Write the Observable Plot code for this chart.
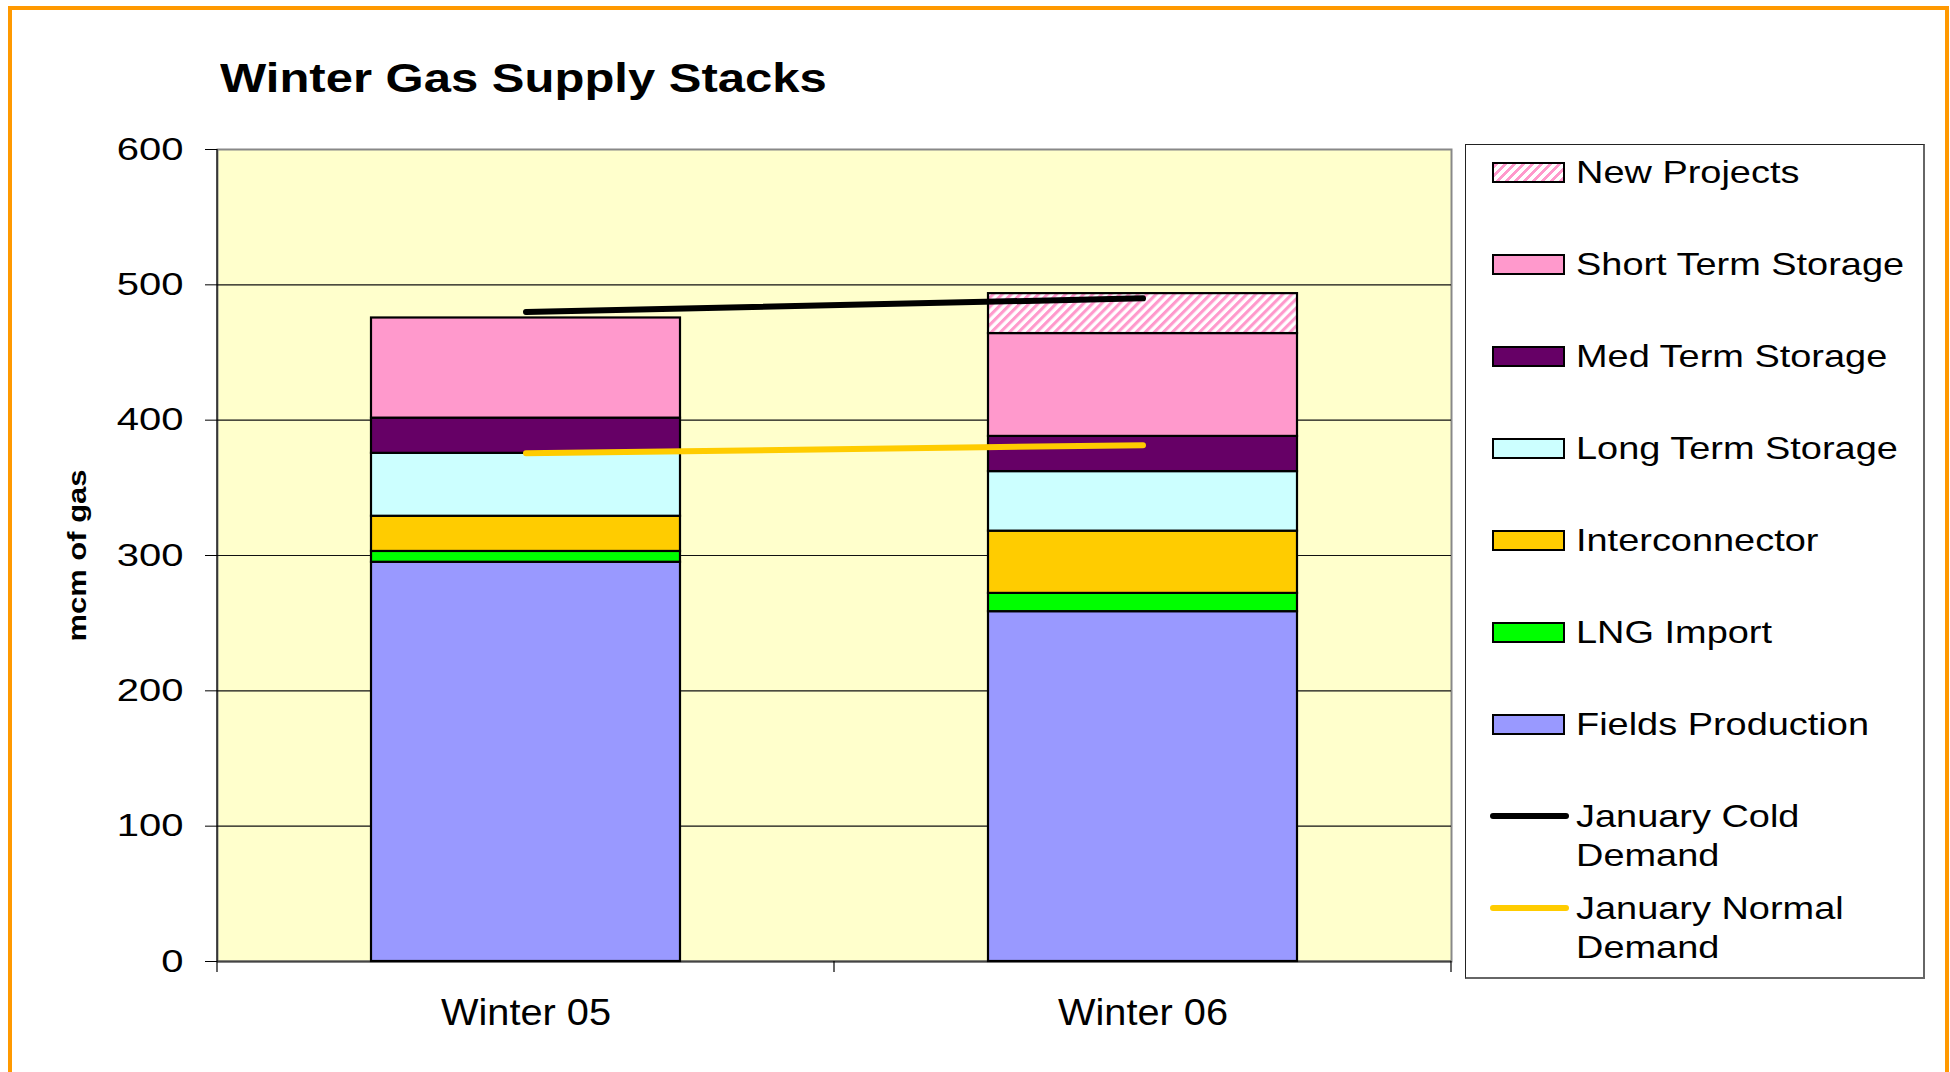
<!DOCTYPE html>
<html>
<head>
<meta charset="utf-8">
<script src="https://cdn.jsdelivr.net/npm/d3@7"></script>
<script src="https://cdn.jsdelivr.net/npm/@observablehq/plot@0.6"></script>
<style>
  html, body { margin: 0; padding: 0; background: #fff; overflow: hidden; }
  #wrap { position: relative; width: 1950px; height: 1072px; font-family: 'Liberation Sans', Arial, sans-serif; color: #000; }
  #chart { position: absolute; left: 0; top: 0; }
  #frame { position: absolute; left: 8px; top: 6px; width: 1941px; height: 1200px; border: 4px solid #FF9900; box-sizing: border-box; pointer-events: none; }
  #title { position: absolute; left: 220px; top: 58px; font-size: 40px; line-height: 40px; font-weight: bold; white-space: nowrap; transform: scaleX(1.225); transform-origin: 0 50%; }
  #legend { position: absolute; left: 1465px; top: 144px; width: 460px; height: 835px; box-sizing: border-box; border: 1.5px solid #222; border-right: 2.5px solid #666; border-bottom: 2.5px solid #666; background: #fff; }
  .sw { position: absolute; left: 1492px; width: 73px; height: 21px; border: 2px solid #000; box-sizing: border-box; }
  .ln { position: absolute; left: 1490px; width: 79px; height: 6px; border-radius: 3px; }
  .lt { position: absolute; left: 1576px; font-size: 32px; line-height: 39.5px; white-space: nowrap; transform: scaleX(1.185); transform-origin: 0 0; }
</style>
</head>
<body>
<div id="wrap">
  <div id="chart"></div>
  <div id="title">Winter Gas Supply Stacks</div>
  <div id="legend"></div>
  <div id="frame"></div>
</div>
<script>
// ---- data ----
const seasons = ["Winter 05", "Winter 06"];
const series = ["Fields Production", "LNG Import", "Interconnector", "Long Term Storage", "Med Term Storage", "Short Term Storage", "New Projects"];
const seriesColors = ["#9999FF", "#00FF00", "#FFCC00", "#CCFFFF", "#660066", "#FF99CC", "url(#hatch)"];
const fieldsProduction = [295, 258.5];
const lngImport = [8, 13.5];
const interconnector = [26, 46];
const longTermStorage = [46.5, 44];
const medTermStorage = [26, 26];
const shortTermStorage = [74, 76];
const newProjects = [0, 29.5];
const coldDemand = [480, 490];
const normalDemand = [375.5, 381.5];
const yTicks = [0, 100, 200, 300, 400, 500, 600];
const yGrid = [100, 200, 300, 400, 500];
const yTitle = "mcm of gas";

const seriesValues = [fieldsProduction, lngImport, interconnector, longTermStorage, medTermStorage, shortTermStorage, newProjects];
const stackData = series.flatMap((s, i) => seasons.map((season, j) => ({season, series: s, value: seriesValues[i][j]})))
  .filter(d => d.value > 0);
const coldData = seasons.map((season, j) => ({season, value: coldDemand[j]}));
const normalData = seasons.map((season, j) => ({season, value: normalDemand[j]}));

const defsMark = () => {
  const defs = d3.create("svg:defs");
  const p = defs.append("pattern").attr("id", "hatch").attr("patternUnits", "userSpaceOnUse")
    .attr("width", 6.4).attr("height", 6.4).attr("patternTransform", "rotate(45)");
  p.append("rect").attr("width", 6.4).attr("height", 6.4).attr("fill", "#fff");
  p.append("rect").attr("width", 3.1).attr("height", 6.4).attr("fill", "#FF99CC");
  return defs.node();
};

const axisExtras = (index, scales, values, dims) => {
  const x = scales.x;
  const bw = typeof x.bandwidth === "function" ? x.bandwidth() : x.bandwidth;
  const left = dims.marginLeft, right = dims.width - dims.marginRight;
  const bottom = dims.height - dims.marginBottom, top = dims.marginTop;
  const a = x(seasons[0]) + bw, b = x(seasons[1]);
  const mid = (a + b) / 2;
  const g = d3.create("svg:g").attr("stroke", "#000").attr("stroke-width", 1.2);
  g.append("line").attr("x1", left).attr("x2", left).attr("y1", top).attr("y2", bottom + 11);
  for (const px of [mid, right]) {
    g.append("line").attr("x1", px).attr("x2", px).attr("y1", bottom).attr("y2", bottom + 11);
  }
  return g.node();
};

const chart = Plot.plot({
  width: 1950,
  height: 1072,
  marginLeft: 217,
  marginRight: 499,
  marginTop: 149,
  marginBottom: 111,
  style: {fontFamily: "'Liberation Sans', Arial, sans-serif", fontSize: "32px", color: "#000", background: "transparent", overflow: "visible"},
  x: {domain: seasons, paddingInner: 0.5, paddingOuter: 0.25},
  y: {domain: [0, 600]},
  color: {domain: series, range: seriesColors},
  marks: [
    defsMark,
    Plot.frame({fill: "#FFFFCC", stroke: "#888", strokeWidth: 2}),
    Plot.ruleY(yGrid, {stroke: "#111", strokeWidth: 1.1}),
    Plot.ruleY([0], {stroke: "#444", strokeWidth: 2}),
    Plot.barY(stackData, {x: "season", y: "value", fill: "series", stroke: "#000", strokeWidth: 2.2}),
    Plot.line(coldData, {x: "season", y: "value", stroke: "#000", strokeWidth: 6, strokeLinecap: "round"}),
    Plot.line(normalData, {x: "season", y: "value", stroke: "#FFCC00", strokeWidth: 6, strokeLinecap: "round"}),
    Plot.axisY({ticks: yTicks, tickSize: 12, tickPadding: 22, fontSize: 32, label: null, tickFormat: d => String(d)}),
    Plot.axisX({tickSize: 0, tickPadding: 37, fontSize: 37.5, label: null}),
    axisExtras,
    Plot.text([yTitle], {frameAnchor: "left", rotate: -90, dx: -132, lineAnchor: "bottom", textAnchor: "middle", fontSize: 26, fontWeight: "bold"})
  ]
});
document.getElementById("chart").appendChild(chart);

// horizontal stretching of text to match the reference glyph proportions
function stretch(selector, f, fixed) {
  chart.querySelectorAll(selector).forEach(t => {
    const L = t.getComputedTextLength();
    t.setAttribute("textLength", fixed != null ? fixed : L * f);
    t.setAttribute("lengthAdjust", "spacingAndGlyphs");
  });
}
stretch('g[aria-label="y-axis tick label"] text', 1.25);
stretch('g[aria-label="x-axis tick label"] text', 1.06);
stretch('g[aria-label="text"] text', 1, 172);

// legend
const wrap = document.getElementById("wrap");
const legendRows = [
  {label: "New Projects", kind: "hatch"},
  {label: "Short Term Storage", color: "#FF99CC"},
  {label: "Med Term Storage", color: "#660066"},
  {label: "Long Term Storage", color: "#CCFFFF"},
  {label: "Interconnector", color: "#FFCC00"},
  {label: "LNG Import", color: "#00FF00"},
  {label: "Fields Production", color: "#9999FF"},
  {label: "January Cold<br>Demand", line: "#000"},
  {label: "January Normal<br>Demand", line: "#FFCC00"}
];
legendRows.forEach((r, i) => {
  const c = 172 + 92 * i;
  const el = document.createElement("div");
  if (r.line) {
    el.className = "ln";
    el.style.top = (c - 3) + "px";
    el.style.background = r.line;
  } else {
    el.className = "sw";
    el.style.top = (c - 10.5) + "px";
    el.style.background = r.kind === "hatch"
      ? "repeating-linear-gradient(135deg, #FF99CC 0 3px, #fff 3px 6.4px)"
      : r.color;
  }
  wrap.insertBefore(el, document.getElementById("frame"));
  const t = document.createElement("div");
  t.className = "lt";
  t.style.top = (c - 19.5) + "px";
  t.innerHTML = r.label;
  wrap.insertBefore(t, document.getElementById("frame"));
});
</script>
</body>
</html>
